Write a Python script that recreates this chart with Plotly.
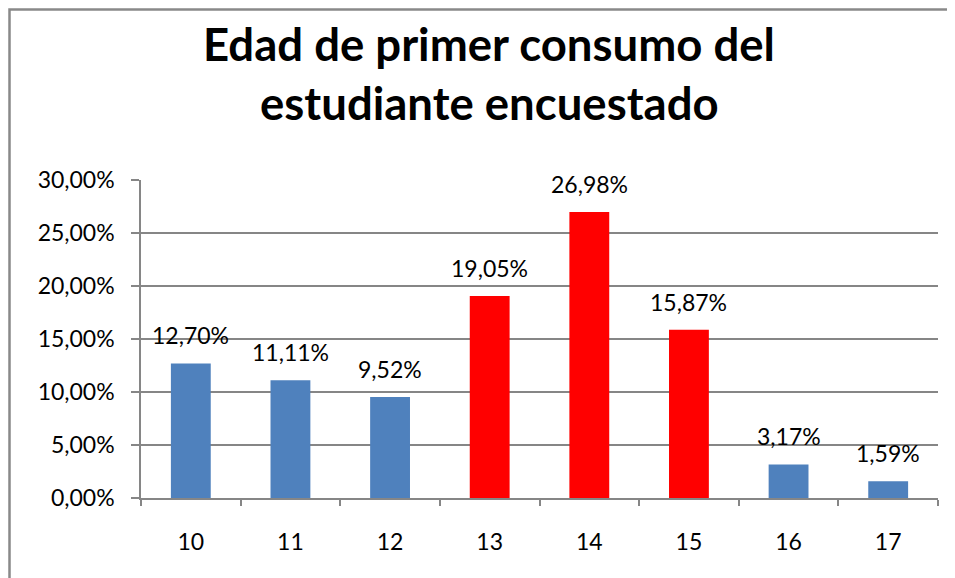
import plotly.graph_objects as go

categories = ["10", "11", "12", "13", "14", "15", "16", "17"]
values = [12.70, 11.11, 9.52, 19.05, 26.98, 15.87, 3.17, 1.59]
labels = ["12,70%", "11,11%", "9,52%", "19,05%", "26,98%", "15,87%", "3,17%", "1,59%"]
colors = ["#4F81BD", "#4F81BD", "#4F81BD", "#FF0000", "#FF0000", "#FF0000", "#4F81BD", "#4F81BD"]
y_ticks = [0, 5, 10, 15, 20, 25, 30]
y_ticktext = ["0,00%", "5,00%", "10,00%", "15,00%", "20,00%", "25,00%", "30,00%"]
title_lines = ["Edad de primer consumo del", "estudiante encuestado"]

FONT = "Lato"
OFF = 8  # page body margin offset

W, H = 955, 578
# plot area in screen pixels: x 141..938, y 180..498
L = 141 - OFF
T = 180 - OFF
R = W - (938 - OFF)
B = H - (498 - OFF)
pw, ph = W - L - R, H - T - B


def py(pix):
    # screen pixel y -> paper coordinate
    return ((H - B) - (pix - OFF)) / ph


def px(pix):
    return ((pix - OFF) - L) / pw


fig = go.Figure()
fig.add_trace(go.Bar(
    x=categories, y=values, marker=dict(color=colors, line=dict(width=0)),
    hoverinfo="skip", showlegend=False,
))

for i, (v, t) in enumerate(zip(values, labels)):
    fig.add_annotation(x=i, y=v, text=t, showarrow=False, yanchor="bottom",
                       yshift=12, font=dict(family=FONT, size=23, color="black"))

# title, two lines
for txt, yc in zip(title_lines, [43, 102]):
    fig.add_annotation(xref="paper", yref="paper", x=px(489), y=py(yc),
                       xanchor="center", yanchor="middle", showarrow=False,
                       text="<b>" + txt + "</b>",
                       font=dict(family=FONT, size=45.5, color="black"))

# outer chart border (gray), left/top edges just inside the page
fig.add_shape(type="rect", xref="paper", yref="paper",
              x0=px(OFF + 1.5), x1=px(W + 30), y0=py(H + 30), y1=py(OFF + 1.5),
              line=dict(color="#898989", width=2.5), layer="below")

fig.update_layout(
    width=W, height=H,
    margin=dict(l=L, r=R, t=T, b=B, autoexpand=False),
    paper_bgcolor="white", plot_bgcolor="white",
    bargap=0.6,
    xaxis=dict(type="category", showgrid=False, showline=True, linecolor="#868686",
               linewidth=1.5, ticks="outside", tickson="boundaries", ticklen=6,
               tickcolor="#868686", tickwidth=1.5, ticklabelstandoff=23,
               automargin=False, range=[-0.5, 7.5],
               tickfont=dict(family=FONT, size=23, color="black")),
    yaxis=dict(range=[0, 30], tickvals=y_ticks, ticktext=y_ticktext,
               showgrid=True, gridcolor="#868686", gridwidth=1.5,
               showline=True, linecolor="#868686", linewidth=1.5,
               ticks="outside", ticklen=8, tickcolor="#868686", tickwidth=1.5,
               ticklabelstandoff=12, zeroline=False, automargin=False,
               tickfont=dict(family=FONT, size=23, color="black")),
)

fig.write_html("out.html")
